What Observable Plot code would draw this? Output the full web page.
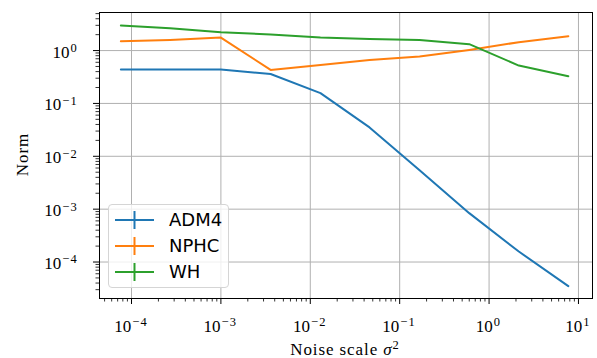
<!DOCTYPE html>
<html>
<head>
<meta charset="utf-8">
<script src="https://cdn.jsdelivr.net/npm/d3@7"></script>
<script src="https://cdn.jsdelivr.net/npm/@observablehq/plot@0.6"></script>
<style>
  html, body { margin: 0; padding: 0; background: #fff; }
  #wrap { position: relative; width: 597px; height: 358px; }
  #legend {
    position: absolute; left: 108px; top: 204px; width: 119px; height: 82px;
    border: 1px solid #d5d5d5; border-radius: 4px; background: rgba(255,255,255,0.8);
    font-family: "DejaVu Sans", sans-serif; font-size: 18px; color: #000;
  }
  .row { position: absolute; left: 0; height: 26px; }
  .row svg { position: absolute; left: 5px; top: 0; }
  .row span { position: absolute; left: 60px; top: 1px; line-height: 24px; }
</style>
</head>
<body>
<div id="wrap"><div id="legend"></div></div>
<script>
// Data
const noiseScale = [7.6e-5, 2.7e-4, 1.0e-3, 3.6e-3, 1.3e-2, 4.6e-2, 0.167, 0.6, 2.15, 7.7];
const adm4 = [0.436, 0.436, 0.436, 0.36, 0.157, 0.0352, 0.00547, 8.4e-4, 1.58e-4, 3.5e-5];
const nphc = [1.50, 1.59, 1.76, 0.43, 0.535, 0.666, 0.77, 1.03, 1.44, 1.87];
const wh   = [2.98, 2.65, 2.22, 2.01, 1.76, 1.66, 1.59, 1.32, 0.52, 0.326];
const seriesNames = ["ADM4", "NPHC", "WH"];
const seriesColors = ["#1f77b4", "#ff7f0e", "#2ca02c"];
const xTickExp = [-4, -3, -2, -1, 0, 1];
const yTickExp = [-4, -3, -2, -1, 0];

const seriesValues = [adm4, nphc, wh];
const data = [];
seriesNames.forEach((name, s) => {
  seriesValues[s].forEach((v, i) => data.push({series: name, x: noiseScale[i], y: v}));
});

const xDomain = [Math.pow(10, -4.358), Math.pow(10, 1.157)];
const yDomain = [Math.pow(10, -4.69), Math.pow(10, 0.72)];
const xMajor = xTickExp.map(e => Math.pow(10, e));
const yMajor = yTickExp.map(e => Math.pow(10, e));
function minorTicks(domain) {
  const out = [];
  for (let e = Math.floor(Math.log10(domain[0])); e <= Math.ceil(Math.log10(domain[1])); e++) {
    for (let m = 2; m <= 9; m++) {
      const v = m * Math.pow(10, e);
      if (v >= domain[0] && v <= domain[1]) out.push(v);
    }
  }
  return out;
}
const xMinor = minorTicks(xDomain);
const yMinor = minorTicks(yDomain);
const blank = () => "";

const serif = "'Liberation Serif', 'DejaVu Serif', serif";

const chart = Plot.plot({
  width: 597, height: 358,
  marginLeft: 99, marginRight: 5, marginTop: 12, marginBottom: 60,
  style: {fontFamily: serif, color: "#000", background: "#fff"},
  x: {type: "log", domain: xDomain},
  y: {type: "log", domain: yDomain},
  color: {domain: seriesNames, range: seriesColors},
  marks: [
    Plot.gridX(xMajor, {stroke: "#b0b0b0", strokeOpacity: 1, strokeWidth: 1}),
    Plot.gridY(yMajor, {stroke: "#b0b0b0", strokeOpacity: 1, strokeWidth: 1}),
    Plot.line(data, {x: "x", y: "y", z: "series", stroke: "series", strokeWidth: 2}),
    Plot.frame({stroke: "#000", strokeWidth: 1}),
    Plot.axisX(xMajor, {tickSize: 6, tickFormat: blank, label: null, strokeWidth: 1}),
    Plot.axisX(xMinor, {tickSize: 3.5, tickFormat: blank, label: null, strokeWidth: 0.8}),
    Plot.axisY(yMajor, {tickSize: 6, tickFormat: blank, label: null, strokeWidth: 1}),
    Plot.axisY(yMinor, {tickSize: 3.5, tickFormat: blank, label: null, strokeWidth: 0.8})
  ]
});

const svg = d3.select(chart);
const sx = chart.scale("x");
const sy = chart.scale("y");
const exponentText = d => String(Math.round(Math.log10(d))).replace("-", "\u2212");
function powerLabel(t, d) {
  t.append("tspan").text("10");
  t.append("tspan").attr("dx", 1).attr("dy", "-0.45em").attr("font-size", "12.5px")
    .attr("letter-spacing", "1.2px").text(exponentText(d));
}
// Tick labels as 10 with raised exponent
const gx = svg.append("g").attr("aria-label", "x tick labels")
  .attr("font-family", serif).attr("font-size", 17).attr("fill", "#000");
xMajor.forEach(d => {
  gx.append("text").attr("x", sx.apply(d)).attr("y", 332).attr("text-anchor", "middle")
    .call(t => powerLabel(t, d));
});
const gy = svg.append("g").attr("aria-label", "y tick labels")
  .attr("font-family", serif).attr("font-size", 17).attr("fill", "#000");
yMajor.forEach(d => {
  gy.append("text").attr("x", 78).attr("y", sy.apply(d) + 7.5).attr("text-anchor", "end")
    .call(t => powerLabel(t, d));
});

// Axis labels
svg.append("text")
  .attr("x", 345).attr("y", 355)
  .attr("text-anchor", "middle")
  .attr("font-family", serif).attr("font-size", 17).attr("fill", "#000")
  .attr("letter-spacing", "0.9px")
  .call(t => {
    t.append("tspan").text("Noise scale ");
    t.append("tspan").attr("font-style", "italic").text("\u03c3");
    t.append("tspan").attr("dy", "-0.45em").attr("font-size", "12.5px").text("2");
  });
svg.append("text")
  .attr("transform", "translate(28,154.5) rotate(-90)")
  .attr("text-anchor", "middle")
  .attr("font-family", serif).attr("font-size", 17).attr("fill", "#000")
  .attr("letter-spacing", "1px")
  .text("Norm");

document.getElementById("wrap").prepend(chart);
chart.style.position = "absolute";
chart.style.left = "0";
chart.style.top = "0";

// Legend
const legend = d3.select("#legend");
seriesNames.forEach((name, i) => {
  const row = legend.append("div").attr("class", "row").style("top", (2 + i * 26.2) + "px").style("width", "119px");
  const s = row.append("svg").attr("width", 42).attr("height", 26);
  s.append("line").attr("x1", 1).attr("x2", 40).attr("y1", 13).attr("y2", 13)
    .attr("stroke", seriesColors[i]).attr("stroke-width", 2);
  s.append("line").attr("x1", 20.5).attr("x2", 20.5).attr("y1", 4).attr("y2", 22)
    .attr("stroke", seriesColors[i]).attr("stroke-width", 2);
  row.append("span").text(name);
});
</script>
</body>
</html>
